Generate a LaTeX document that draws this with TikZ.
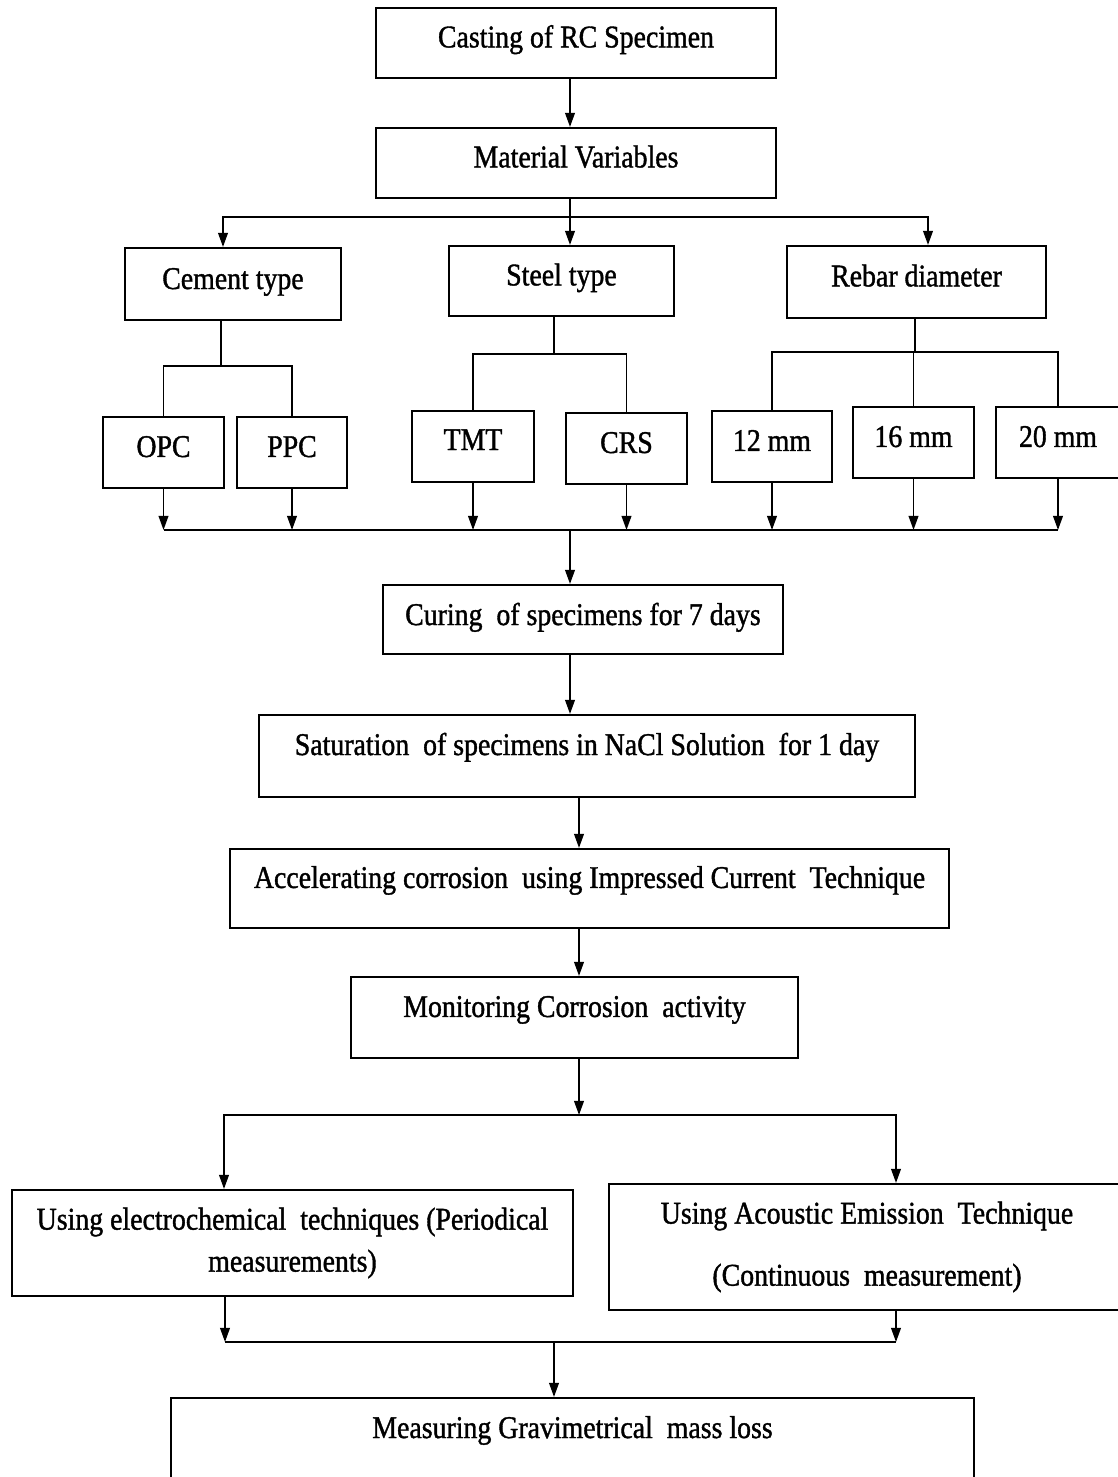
\documentclass[tikz,border=0pt]{standalone}
\usepackage{fontspec}
\setmainfont{Liberation Serif}[FakeStretch=0.88,FakeBold=1.2]
\usetikzlibrary{arrows.meta,calc}
\tikzset{
    frame/.style =  {rectangle,
                    fill=white,
                    draw=black,
                    text=black,
                    line width=1.2pt,
                    inner sep=0pt,
                    font=\fontsize{18}{21}\selectfont},
    box/.style =    {frame,
                    text height=14pt,
                    text depth=9pt},
    leaf/.style =   {box,
                    minimum height=1.42cm,
                    text depth=8.9pt},
    two/.style =    {frame,
                    align=center},
    >={Triangle[length=8pt,width=5.5pt]},
    every path/.style={line width=1pt}}

\begin{document}
\begin{tikzpicture}[x=0.02cm,y=-0.02cm]
        \useasboundingbox (0,0) rectangle (1117,1477);
        % main boxes
        \node[box]  (cast) at (576,43)     [minimum width=8cm, minimum height=1.4cm]   {Casting of RC Specimen};
        \node[box]  (mat)  at (576,163)    [minimum width=8cm, minimum height=1.4cm]   {Material Variables};
        \node[box]  (cem)  at (233,284)    [minimum width=4.32cm, minimum height=1.44cm, text depth=8.3pt] {Cement type};
        \node[box]  (stl)  at (561.5,281)  [minimum width=4.5cm, minimum height=1.4cm]  {Steel type};
        \node[box]  (reb)  at (916.5,282)  [minimum width=5.18cm, minimum height=1.44cm] {Rebar diameter};
        % leaves
        \node[leaf] (opc)  at (163.5,452.5) [minimum width=2.42cm] {OPC};
        \node[leaf] (ppc)  at (292,452.5)   [minimum width=2.2cm]  {PPC};
        \node[leaf] (tmt)  at (473,446.5)   [minimum width=2.44cm, text depth=10pt] {TMT};
        \node[leaf] (crs)  at (626.5,448.5) [minimum width=2.42cm] {CRS};
        \node[leaf] (d12)  at (772,446.5)   [minimum width=2.4cm]  {12 mm};
        \node[leaf] (d16)  at (913.5,442.5) [minimum width=2.42cm] {16 mm};
        \node[leaf] (d20)  at (1058,442.5)  [minimum width=2.48cm] {20 mm};
        % process
        \node[box]  (cur)  at (583,619.5)   [minimum width=8cm, minimum height=1.38cm, text depth=7.7pt] {Curing~ of specimens for 7 days};
        \node[box]  (sat)  at (587,756)     [minimum width=13.12cm, minimum height=1.64cm, text depth=15.1pt] {Saturation~ of specimens in NaCl Solution~ for 1 day};
        \node[box]  (acc)  at (589.5,888.5) [minimum width=14.38cm, minimum height=1.58cm, text depth=14.6pt] {Accelerating corrosion~ using Impressed Current~ Technique};
        \node[box]  (mon)  at (574.5,1017.5) [minimum width=8.94cm, minimum height=1.62cm, text depth=14.6pt] {Monitoring Corrosion~ activity};
        \node[two]  (ele)  at (292.5,1243)  [minimum width=11.22cm, minimum height=2.12cm] {Using electrochemical~ techniques (Periodical\\[2.9pt] measurements)};
        \node[two]  (aco)  at (867,1247)    [minimum width=10.32cm, minimum height=2.52cm] {Using Acoustic Emission~ Technique\\[14.3pt] (Continuous~ measurement)};
        \node[box]  (grav) at (572.5,1444)  [minimum width=16.06cm, minimum height=1.84cm, text depth=20.8pt] {Measuring Gravimetrical~ mass loss};
        % junctions
        \coordinate (j1) at (570,217);
        \coordinate (j2) at (221,366);
        \coordinate (j3) at (554,354);
        \coordinate (j4) at (915,352);
        \coordinate (j5) at (570,530);
        \coordinate (j6) at (579,1115);
        \coordinate (j7) at (554,1342);
        \coordinate (j8) at (225,1342);
        \coordinate (j9) at (896,1342);
        % connectors
        \draw[->] (cast.south -| j1) -- (mat.north -| j1);
        \draw[->] (mat.south -| j1) -- (stl.north -| j1);
        \draw[->] (j1) -| ($(cem.north)+(-10,0)$);
        \draw[->] (j1) -| ($(reb.north)+(11.5,0)$);
        \draw (cem.south -| j2) -- (j2);
        \draw (opc.north) |- (j2) -| (ppc.north);
        \draw (stl.south -| j3) -- (j3);
        \draw (tmt.north) |- (j3) -| (crs.north);
        \draw (reb.south -| j4) -- (j4);
        \draw (d12.north) |- (j4) -| (d20.north);
        \draw (d16.north) -- (d16.north |- j4);
        \foreach \b in {opc,ppc,tmt,crs,d12,d16,d20}
            \draw[->] (\b.south) -- (\b.south |- j5);
        \draw (opc.south |- j5) -- (d20.south |- j5);
        \draw[->] (j5) -- (cur.north -| j5);
        \draw[->] (cur.south -| j5) -- (sat.north -| j5);
        \draw[->] (sat.south -| j6) -- (acc.north -| j6);
        \draw[->] (acc.south -| j6) -- (mon.north -| j6);
        \draw[->] (mon.south -| j6) -- (j6);
        \draw[->] (j6) -| ($(ele.north)+(-68.5,0)$);
        \draw[->] (j6) -| ($(aco.north)+(29,0)$);
        \draw[->] (ele.south -| j8) -- (j8);
        \draw[->] (aco.south -| j9) -- (j9);
        \draw (j8) -- (j9);
        \draw[->] (j7) -- (grav.north -| j7);
\end{tikzpicture}
\end{document}
